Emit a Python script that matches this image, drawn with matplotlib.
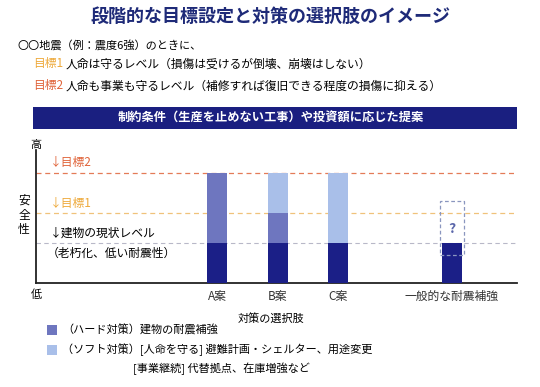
import numpy as np
import matplotlib
matplotlib.use("Agg")
import matplotlib.pyplot as plt
from matplotlib.patches import Rectangle

plt.rcParams['font.family'] = ['Noto Sans CJK JP', 'DejaVu Sans']

# data (safety level, 1 = current building level)
plans = ['A案', 'B案', 'C案', '一般的な耐震補強']
xpos = [1.0, 2.0, 3.0, 4.87]
current = 1.0
goal1 = 1.75
goal2 = 2.75
base_vals = [1.0, 1.0, 1.0, 1.0]          # current level (dark)
hard_vals = [1.75, 0.75, 0.0, 0.0]        # hard measures
soft_vals = [0.0, 1.0, 1.75, 0.0]         # soft measures
unknown_box = (0.7, 2.05)                 # dashed "?" box for general retrofit

navy = '#1b1f87'
hard_c = '#6e76bf'
soft_c = '#a9bfe9'
c_goal1 = '#eeaa3c'
c_goal2 = '#e0643a'

W, H = 540, 387
fig = plt.figure(figsize=(W / 100, H / 100), dpi=100)

def fx(px):
    return px / W

def fy(py):
    return 1 - py / H

# title and header texts
fig.text(fx(271), fy(16), '段階的な目標設定と対策の選択肢のイメージ', ha='center', va='center',
         fontsize=13, fontweight='bold', color='#1e2a78')
fig.text(fx(17), fy(45), '〇〇地震（例：震度6強）のときに、', ha='left', va='center', fontsize=8)
fig.text(fx(33), fy(64), '目標1', ha='left', va='center', fontsize=8.5, color=c_goal1)
fig.text(fx(66), fy(64), '人命は守るレベル（損傷は受けるが倒壊、崩壊はしない）', ha='left', va='center', fontsize=8.5)
fig.text(fx(33), fy(86), '目標2', ha='left', va='center', fontsize=8.5, color=c_goal2)
fig.text(fx(66), fy(86), '人命も事業も守るレベル（補修すれば復旧できる程度の損傷に抑える）', ha='left', va='center', fontsize=8.5)

# banner
fig.patches.append(Rectangle((fx(33), fy(129)), fx(517 - 33), (129 - 107) / H,
                             transform=fig.transFigure, facecolor='#1a1f80', edgecolor='none'))
fig.text(fx(271), fy(118), '制約条件（生産を止めない工事）や投資額に応じた提案', ha='center', va='center',
         fontsize=8.8, fontweight='bold', color='white')

# chart axes
ax = fig.add_axes([fx(36), fy(283), fx(517 - 36), (283 - 150) / H])
ax.set_xlim(1 - 181 / 60.7, 1 + 300 / 60.7)
ax.set_ylim(0, 133 / 40)
for s in ['top', 'right']:
    ax.spines[s].set_visible(False)
for s in ['left', 'bottom']:
    ax.spines[s].set_linewidth(1.3)
    ax.spines[s].set_color('#222222')
ax.set_yticks([])
ax.set_xticks(xpos)
ax.set_xticklabels(plans, fontsize=8.5, color='#333333')
ax.tick_params(axis='x', length=0, pad=5)

ax.axhline(goal2, color=c_goal2, lw=0.9, dashes=(4, 3), alpha=0.85)
ax.axhline(goal1, color='#f0c27a', lw=0.9, dashes=(4, 3))
ax.axhline(current, color='#b8b8c8', lw=0.8, dashes=(4, 3))

bw = 0.33
ax.bar(xpos, base_vals, width=bw, color=navy, zorder=3)
ax.bar(xpos, hard_vals, width=bw, bottom=base_vals, color=hard_c, zorder=3)
ax.bar(xpos, soft_vals, width=bw, bottom=np.array(base_vals) + np.array(hard_vals), color=soft_c, zorder=3)

ax.add_patch(Rectangle((xpos[3] - 0.2, unknown_box[0]), 0.4, unknown_box[1] - unknown_box[0],
                       fill=False, edgecolor='#8a96bf', lw=0.9, ls=(0, (3, 2)), zorder=4))
ax.text(xpos[3], 1.35, '?', ha='center', va='center', fontsize=10, fontweight='bold', color='#5a66aa')

# axis annotations
fig.text(fx(36), fy(145), '高', ha='center', va='center', fontsize=8)
fig.text(fx(36), fy(295), '低', ha='center', va='center', fontsize=8)
fig.text(fx(24), fy(215), '安\n全\n性', ha='center', va='center', fontsize=8.5, linespacing=1.15)
fig.text(fx(50), fy(163), '↓目標2', ha='left', va='center', fontsize=8.5, color=c_goal2)
fig.text(fx(50), fy(203), '↓目標1', ha='left', va='center', fontsize=8.5, color=c_goal1)
fig.text(fx(50), fy(233), '↓建物の現状レベル', ha='left', va='center', fontsize=8.5)
fig.text(fx(47), fy(253), '（老朽化、低い耐震性）', ha='left', va='center', fontsize=8.5)

fig.text(fx(271), fy(318), '対策の選択肢', ha='center', va='center', fontsize=8)

# legend
for py, col in [(330, hard_c), (350, soft_c)]:
    fig.patches.append(Rectangle((fx(47), fy(py + 5)), fx(10), 10 / H,
                                 transform=fig.transFigure, facecolor=col, edgecolor='none'))
fig.text(fx(62), fy(330), '（ハード対策）建物の耐震補強', ha='left', va='center', fontsize=8)
fig.text(fx(62), fy(350), '（ソフト対策）[人命を守る] 避難計画・シェルター、用途変更', ha='left', va='center', fontsize=8)
fig.text(fx(133), fy(369), '[事業継続] 代替拠点、在庫増強など', ha='left', va='center', fontsize=8)

fig.savefig('out.png', dpi=100)
